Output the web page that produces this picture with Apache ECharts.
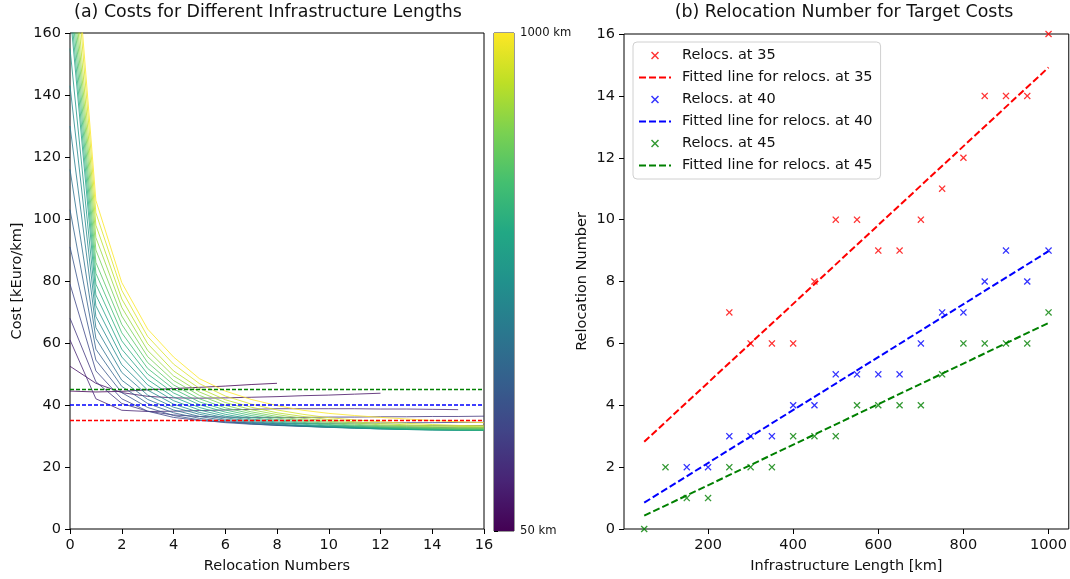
<!DOCTYPE html>
<html>
<head>
<meta charset="utf-8">
<script src="https://cdn.jsdelivr.net/npm/echarts@6/dist/echarts.min.js"></script>
<style>
  html, body { margin: 0; padding: 0; background: #fff; }
  #chart { width: 1070px; height: 579px; }
</style>
</head>
<body>
<div id="chart"></div>
<script>
// (a) cost per km vs number of relocations, one curve per infrastructure length
const relocSteps = [0, 1, 2, 3, 4, 5, 6, 7, 8, 9, 10, 11, 12, 13, 14, 15, 16];
const lengths = [50, 100, 150, 200, 250, 300, 350, 400, 450, 500, 550, 600, 650, 700, 750, 800, 850, 900, 950, 1000];

const cost50 = [44.5, 44.2, 44.4, 44.9, 45.3, 45.7, 46.1, 46.6, 47.0];
const cost100 = [52.5, 47, 44, 42.8, 42.3, 42.2, 42.3, 42.5, 42.7, 43, 43.2, 43.5, 43.8];
const cost150 = [61, 42, 38.3, 37.9, 38.0, 38.2, 38.4, 38.6, 38.8, 38.8, 38.8, 38.8, 38.7, 38.7, 38.6, 38.5];
const cost200 = [68, 47.5, 40.5, 38.0, 36.8, 36.3, 36.1, 36.0, 36.0, 36.0, 36.1, 36.1, 36.2, 36.2, 36.3, 36.3, 36.4];
const cost250 = [79, 51, 42, 38.0, 36.0, 35.0, 34.5, 34.2, 34.1, 34.1, 34.1, 34.2, 34.2, 34.3, 34.3, 34.4, 34.4];
const cost300 = [91, 54.5, 44, 39.2, 36.6, 35.2, 34.3, 33.8, 33.5, 33.3, 33.2, 33.2, 33.2, 33.2, 33.3, 33.3, 33.4];
const cost350 = [103, 58, 46, 40.5, 37.5, 35.7, 34.6, 33.9, 33.4, 33.1, 32.9, 32.8, 32.7, 32.7, 32.7, 32.8, 32.8];
const cost400 = [116, 61.5, 48, 41.8, 38.4, 36.3, 35.0, 34.1, 33.5, 33.1, 32.8, 32.6, 32.5, 32.4, 32.4, 32.4, 32.4];
const cost450 = [130, 65, 50.5, 43.2, 39.3, 37.0, 35.4, 34.4, 33.7, 33.2, 32.8, 32.5, 32.3, 32.2, 32.1, 32.1, 32.1];
const cost500 = [143, 68.5, 53, 44.8, 40.3, 37.6, 35.9, 34.7, 33.9, 33.3, 32.9, 32.6, 32.3, 32.1, 32.0, 31.9, 31.9];
const cost550 = [155, 72, 55.5, 46.5, 41.4, 38.4, 36.4, 35.1, 34.2, 33.5, 33.0, 32.6, 32.3, 32.1, 31.9, 31.8, 31.8];
const cost600 = [167, 75.5, 58, 48.2, 42.6, 39.2, 37.0, 35.5, 34.5, 33.8, 33.2, 32.8, 32.5, 32.2, 32.0, 31.9, 31.8];
const cost650 = [171, 79, 60.7, 50, 43.9, 40.1, 37.7, 36.0, 34.9, 34.1, 33.5, 33.0, 32.6, 32.3, 32.1, 32.0, 31.9];
const cost700 = [176, 82.5, 63.3, 51.8, 45.2, 41.0, 38.4, 36.6, 35.3, 34.4, 33.7, 33.2, 32.8, 32.5, 32.3, 32.1, 32.0];
const cost750 = [181, 86, 66, 53.7, 46.5, 42.0, 39.1, 37.2, 35.8, 34.8, 34.0, 33.5, 33.0, 32.7, 32.5, 32.3, 32.2];
const cost800 = [186, 90, 68.7, 55.6, 47.9, 43.1, 39.9, 37.8, 36.3, 35.2, 34.4, 33.8, 33.3, 33.0, 32.7, 32.5, 32.4];
const cost850 = [191, 94, 71.5, 57.6, 49.4, 44.2, 40.8, 38.5, 36.9, 35.7, 34.8, 34.2, 33.6, 33.3, 33.0, 32.8, 32.7];
const cost900 = [197, 98, 74.2, 59.8, 51.0, 45.4, 41.7, 39.3, 37.5, 36.3, 35.3, 34.6, 34.0, 33.6, 33.3, 33.1, 33.0];
const cost950 = [205, 102, 77, 62.1, 53.2, 46.9, 42.9, 40.3, 38.4, 37.0, 35.9, 35.2, 34.6, 34.1, 33.7, 33.4, 33.3];
const cost1000 = [211, 106, 79.5, 64.5, 55.5, 48.5, 44.5, 41.8, 39.8, 38.3, 37.3, 36.6, 36.0, 35.5, 35.0, 34.6, 34.3];

const costCurves = [cost50, cost100, cost150, cost200, cost250, cost300, cost350, cost400, cost450, cost500,
  cost550, cost600, cost650, cost700, cost750, cost800, cost850, cost900, cost950, cost1000];

const targetCosts = [35, 40, 45];

// (b) relocation number needed to reach each target cost
const relocs35 = [null, null, null, null, 7, 6, 6, 6, 8, 10, 10, 9, 9, 10, 11, 12, 14, 14, 14, 16];
const relocs40 = [null, null, 2, 2, 3, 3, 3, 4, 4, 5, 5, 5, 5, 6, 7, 7, 8, 9, 8, 9];
const relocs45 = [0, 2, 1, 1, 2, 2, 2, 3, 3, 3, 4, 4, 4, 4, 5, 6, 6, 6, 6, 7];

// fitted line end values at the first and last length
const fitEnds35 = [2.82, 14.92];
const fitEnds40 = [0.85, 8.98];
const fitEnds45 = [0.43, 6.66];

const xTicksRight = [200, 400, 600, 800, 1000];
const colorbarRange = [50, 1000];

const FONT = 'DejaVu Sans';
const TXT = '#111';
const viridisStops = ['#440154', '#482475', '#414487', '#355f8d', '#2a788e', '#21918c',
  '#22a884', '#44bf70', '#7ad151', '#bddf26', '#fde725'];

function hexRgb(h) {
  return [parseInt(h.substr(1, 2), 16), parseInt(h.substr(3, 2), 16), parseInt(h.substr(5, 2), 16)];
}
function viridis(t) {
  const s = t * (viridisStops.length - 1);
  const i = Math.min(Math.floor(s), viridisStops.length - 2);
  const f = s - i;
  const a = hexRgb(viridisStops[i]), b = hexRgb(viridisStops[i + 1]);
  return 'rgb(' + a.map((v, k) => Math.round(v + (b[k] - v) * f)).join(',') + ')';
}

const XMARK = 'path://M1.3,0 L5,3.7 L8.7,0 L10,1.3 L6.3,5 L10,8.7 L8.7,10 L5,6.3 L1.3,10 L0,8.7 L3.7,5 L0,1.3 Z';
const tickStyle = { show: true, inside: false, length: 5, lineStyle: { color: '#000', width: 1 } };
const labelStyle = { color: TXT, fontSize: 14.5, fontFamily: FONT, margin: 9 };
const nameStyle = { color: TXT, fontSize: 14.5, fontFamily: FONT };

const series = [];

costCurves.forEach(function (vals, k) {
  series.push({
    name: lengths[k] + ' km',
    type: 'line',
    xAxisIndex: 0, yAxisIndex: 0,
    data: vals.map((v, i) => [relocSteps[i], v]),
    showSymbol: false,
    symbol: 'none',
    clip: true,
    lineStyle: { width: 1, color: viridis((lengths[k] - 50) / 950), opacity: 0.8 },
    silent: true
  });
});

const targetColors = ['#ff0000', '#0000ff', '#008000'];
targetCosts.forEach(function (c, k) {
  series.push({
    type: 'line',
    xAxisIndex: 0, yAxisIndex: 0,
    data: [[relocSteps[0], c], [relocSteps[relocSteps.length - 1], c]],
    showSymbol: false, symbol: 'none',
    lineStyle: { width: 1.4, color: targetColors[k], type: [4, 2] },
    silent: true
  });
});

// colorbar
series.push({
  type: 'custom',
  xAxisIndex: 2, yAxisIndex: 2,
  data: [[0, colorbarRange[0], colorbarRange[1]]],
  silent: true,
  renderItem: function (params, api) {
    const p0 = api.coord([0, api.value(2)]);
    const p1 = api.coord([1, api.value(1)]);
    return {
      type: 'rect',
      shape: { x: p0[0], y: p0[1], width: p1[0] - p0[0], height: p1[1] - p0[1] },
      style: {
        fill: new echarts.graphic.LinearGradient(0, 1, 0, 0,
          viridisStops.map((c, i) => ({ offset: i / (viridisStops.length - 1), color: c })))
      }
    };
  }
});

const scatterSets = [
  ['Relocs. at 35', 'Fitted line for relocs. at 35', relocs35, fitEnds35, '#ff0000'],
  ['Relocs. at 40', 'Fitted line for relocs. at 40', relocs40, fitEnds40, '#0000ff'],
  ['Relocs. at 45', 'Fitted line for relocs. at 45', relocs45, fitEnds45, '#008000']
];
const legendItems = [];
scatterSets.forEach(function (s) {
  legendItems.push({ name: s[0] });
  legendItems.push({ name: s[1], itemStyle: { opacity: 0 } });
  series.push({
    name: s[0],
    type: 'scatter',
    xAxisIndex: 1, yAxisIndex: 1,
    data: lengths.map((L, i) => [L, s[2][i]]).filter(p => p[1] !== null),
    symbol: XMARK,
    symbolSize: 7,
    itemStyle: { color: s[4] },
    clip: true
  });
  series.push({
    name: s[1],
    type: 'line',
    xAxisIndex: 1, yAxisIndex: 1,
    data: [[lengths[0], s[3][0]], [lengths[lengths.length - 1], s[3][1]]],
    showSymbol: false, symbol: 'none',
    lineStyle: { width: 2, color: s[4], type: [7, 3] },
    itemStyle: { color: s[4] }
  });
});

const option = {
  animation: false,
  backgroundColor: '#fff',
  textStyle: { fontFamily: FONT },
  title: [
    { text: '(a) Costs for Different Infrastructure Lengths', left: 268, top: 4, textAlign: 'center', padding: 0,
      textStyle: { fontSize: 17.4, fontWeight: 'normal', color: TXT, fontFamily: FONT } },
    { text: '(b) Relocation Number for Target Costs', left: 844, top: 4, textAlign: 'center', padding: 0,
      textStyle: { fontSize: 17.4, fontWeight: 'normal', color: TXT, fontFamily: FONT } }
  ],
  grid: [
    { left: 70, top: 33, width: 414, height: 498, show: true, borderColor: '#000', borderWidth: 1, backgroundColor: 'transparent' },
    { left: 624, top: 34, width: 445, height: 497, show: true, borderColor: '#000', borderWidth: 1, backgroundColor: 'transparent' },
    { left: 494, top: 33, width: 20, height: 498, show: true, borderColor: '#333', borderWidth: 1, backgroundColor: 'transparent' }
  ],
  xAxis: [
    { type: 'value', gridIndex: 0, min: 0, max: 16, interval: 2,
      name: 'Relocation Numbers', nameLocation: 'middle', nameGap: 30, nameTextStyle: nameStyle,
      axisLine: { show: false }, axisTick: tickStyle, axisLabel: labelStyle, splitLine: { show: false } },
    { type: 'value', gridIndex: 1, min: 2.5, max: 1047.5,
      name: 'Infrastructure Length [km]', nameLocation: 'middle', nameGap: 30, nameTextStyle: nameStyle,
      axisLine: { show: false },
      axisTick: Object.assign({}, tickStyle, { customValues: xTicksRight }),
      axisLabel: Object.assign({}, labelStyle, { customValues: xTicksRight, formatter: v => String(v) }),
      splitLine: { show: false } },
    { type: 'value', gridIndex: 2, min: 0, max: 1, show: false }
  ],
  yAxis: [
    { type: 'value', gridIndex: 0, min: 0, max: 160, interval: 20,
      name: 'Cost [kEuro/km]', nameLocation: 'middle', nameGap: 45, nameTextStyle: nameStyle,
      axisLine: { show: false }, axisTick: tickStyle, axisLabel: labelStyle, splitLine: { show: false } },
    { type: 'value', gridIndex: 1, min: 0, max: 16, interval: 2,
      name: 'Relocation Number', nameLocation: 'middle', nameGap: 34, nameTextStyle: nameStyle,
      axisLine: { show: false }, axisTick: tickStyle, axisLabel: labelStyle, splitLine: { show: false } },
    { type: 'value', gridIndex: 2, min: colorbarRange[0], max: colorbarRange[1], position: 'right',
      axisLine: { show: false },
      axisTick: { show: true, length: 4, lineStyle: { color: '#000' }, customValues: colorbarRange },
      axisLabel: { color: TXT, fontSize: 11.6, fontFamily: FONT, margin: 6, customValues: colorbarRange,
        formatter: v => v + ' km' },
      splitLine: { show: false } }
  ],
  legend: {
    orient: 'vertical',
    left: 633, top: 42,
    data: legendItems,
    itemWidth: 32, itemHeight: 8, itemGap: 7,
    padding: [6, 8, 6, 5],
    backgroundColor: '#fff',
    borderColor: '#d0d0d0', borderWidth: 1, borderRadius: 4,
    textStyle: { color: TXT, fontSize: 14.5, fontFamily: FONT, padding: [0, 0, 0, 6] },
    selectedMode: false
  },
  series: series
};

const chart = echarts.init(document.getElementById('chart'), null, { renderer: 'canvas' });
chart.setOption(option);
</script>
</body>
</html>
